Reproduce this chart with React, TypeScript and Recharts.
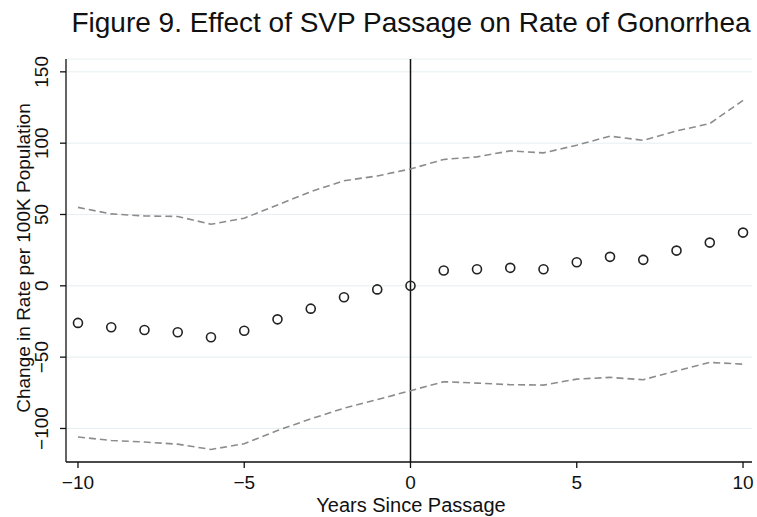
import React from "react";
import {
  ComposedChart,
  Line,
  XAxis,
  YAxis,
  CartesianGrid,
  ReferenceLine,
} from "recharts";

// years relative to passage
const years = [-10, -9, -8, -7, -6, -5, -4, -3, -2, -1, 0, 1, 2, 3, 4, 5, 6, 7, 8, 9, 10];
// point estimates
const estimate = [-26, -29, -31, -32.5, -36, -31.5, -23.5, -16, -8, -2.5, 0, 10.7, 11.6, 12.6, 11.6, 16.5, 20.3, 18.2, 24.7, 30.3, 37.3];
// confidence bounds
const upper = [55, 50.4, 49, 48.6, 43.2, 47.4, 56.7, 66, 73.7, 77, 81.9, 88.6, 90.4, 94.6, 93.2, 98.6, 104.9, 102, 108.6, 113.7, 130];
const lower = [-106, -108.4, -109.5, -111, -114.7, -110.7, -101.4, -93.3, -85.8, -79.8, -73.5, -67.2, -68.2, -69.3, -69.6, -65.4, -64.2, -65.8, -59.6, -53.7, -54.9];

const xTicks = [-10, -5, 0, 5, 10];
const yTicks = [-100, -50, 0, 50, 100, 150];

const data = years.map((y, i) => ({
  year: y,
  est: estimate[i],
  hi: upper[i],
  lo: lower[i],
}));

const FONT = "'Liberation Sans', Arial, sans-serif";
const fmt = (v: number) => (v < 0 ? `\u2212${Math.abs(v)}` : `${v}`);

const YTick = (props: any) => {
  const { y, payload } = props;
  const bx = 48;
  return (
    <text
      x={bx}
      y={y}
      transform={`rotate(-90, ${bx}, ${y})`}
      textAnchor="middle"
      fill="#111"
      fontSize={19}
      fontFamily={FONT}
    >
      {fmt(payload.value)}
    </text>
  );
};

const XTick = (props: any) => {
  const { x, payload } = props;
  return (
    <text x={x} y={489} textAnchor="middle" fill="#111" fontSize={19} fontFamily={FONT}>
      {fmt(payload.value)}
    </text>
  );
};

export default function App() {
  return (
    <div style={{ position: "absolute", left: 0, top: 0, width: 757, height: 517, background: "#fff" }}>
      <svg width={757} height={517} style={{ position: "absolute", left: 0, top: 0 }}>
        <text x={411} y={32} textAnchor="middle" fontSize={28} fill="#111" fontFamily={FONT}>
          Figure 9. Effect of SVP Passage on Rate of Gonorrhea
        </text>
        <text
          x={30}
          y={258}
          transform="rotate(-90, 30, 258)"
          textAnchor="middle"
          fontSize={19}
          fill="#111"
          fontFamily={FONT}
        >
          Change in Rate per 100K Population
        </text>
        <text x={411} y={512} textAnchor="middle" fontSize={20} fill="#111" fontFamily={FONT}>
          Years Since Passage
        </text>
      </svg>
      <div style={{ position: "absolute", left: 0, top: 0 }}>
        <ComposedChart
          width={757}
          height={517}
          data={data}
          margin={{ top: 59, right: 5, left: 0, bottom: 0 }}
        >
          <CartesianGrid vertical={false} stroke="#e6eff1" strokeWidth={1} />
          <XAxis
            dataKey="year"
            type="number"
            domain={[-10.36, 10.27]}
            ticks={xTicks}
            height={55}
            axisLine={{ stroke: "#111", strokeWidth: 1.3 }}
            tickLine={{ stroke: "#111", strokeWidth: 1.3 }}
            tickSize={6}
            tick={<XTick />}
            allowDataOverflow
          />
          <YAxis
            type="number"
            domain={[-123.5, 159]}
            ticks={yTicks}
            width={66}
            axisLine={{ stroke: "#111", strokeWidth: 1.3 }}
            tickLine={{ stroke: "#111", strokeWidth: 1.3 }}
            tickSize={6}
            tick={<YTick />}
            allowDataOverflow
          />
          <ReferenceLine x={0} stroke="#111" strokeWidth={1.5} />
          <Line
            dataKey="hi"
            type="linear"
            stroke="#8c8c8c"
            strokeWidth={1.6}
            strokeDasharray="7 4"
            dot={false}
            isAnimationActive={false}
          />
          <Line
            dataKey="lo"
            type="linear"
            stroke="#8c8c8c"
            strokeWidth={1.6}
            strokeDasharray="7 4"
            dot={false}
            isAnimationActive={false}
          />
          <Line
            dataKey="est"
            type="linear"
            stroke="none"
            strokeWidth={0}
            dot={{ r: 4.5, fill: "none", stroke: "#222", strokeWidth: 1.6 }}
            activeDot={false}
            isAnimationActive={false}
          />
        </ComposedChart>
      </div>
    </div>
  );
}
